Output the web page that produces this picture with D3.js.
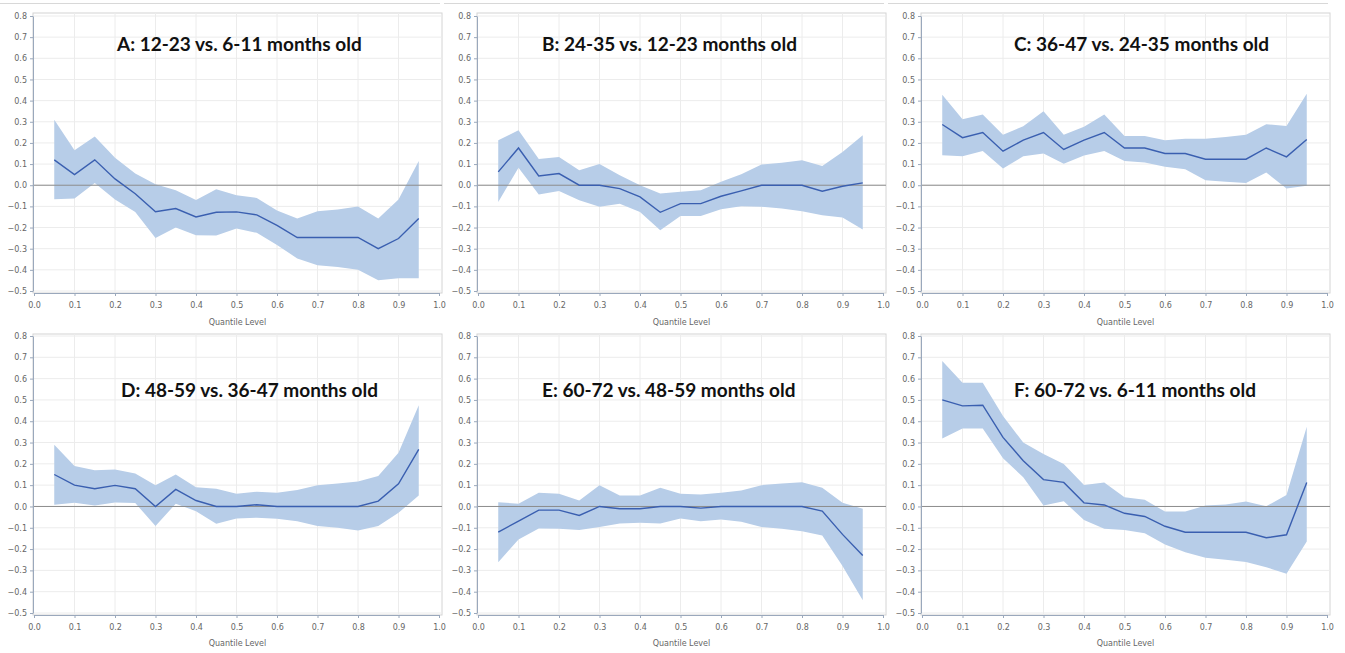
<!DOCTYPE html>
<html>
<head>
  <meta charset="utf-8">
  <title>Quantile regression: age group differences</title>
  <script src="https://d3js.org/d3.v7.min.js"></script>
</head>
<style>
  body { margin: 0; background: #fff; }
  .tick text { font: 8px "DejaVu Sans", sans-serif; fill: #666; }
  .title { font: bold 19px Lato, sans-serif; fill: #111; }
  .xlabel { font: 8px "DejaVu Sans", sans-serif; fill: #666; text-anchor: middle; }
</style>
<body>
</body>
<script>

  // quantile levels shared by all panels
  var quantiles = [0.05, 0.1, 0.15, 0.2, 0.25, 0.3, 0.35, 0.4, 0.45, 0.5,
                   0.55, 0.6, 0.65, 0.7, 0.75, 0.8, 0.85, 0.9, 0.95];

  var titles = ['A: 12-23 vs. 6-11 months old', 'B: 24-35 vs. 12-23 months old',
                'C: 36-47 vs. 24-35 months old', 'D: 48-59 vs. 36-47 months old',
                'E: 60-72 vs. 48-59 months old', 'F: 60-72 vs. 6-11 months old'];

  var xTicks = [0, 0.1, 0.2, 0.3, 0.4, 0.5, 0.6, 0.7, 0.8, 0.9, 1.0];
  var yTicks = [-0.5, -0.4, -0.3, -0.2, -0.1, 0, 0.1, 0.2, 0.3, 0.4, 0.5, 0.6, 0.7, 0.8];

  // panel A
  var estA = [0.12, 0.05, 0.12, 0.03, -0.04, -0.125, -0.11, -0.15, -0.128, -0.126,
              -0.14, -0.19, -0.247, -0.247, -0.247, -0.247, -0.30, -0.252, -0.157];
  var upA  = [0.31, 0.165, 0.23, 0.13, 0.055, 0.005, -0.024, -0.07, -0.019, -0.047,
              -0.06, -0.12, -0.157, -0.123, -0.115, -0.10, -0.157, -0.068, 0.115];
  var lowA = [-0.066, -0.063, 0.011, -0.068, -0.126, -0.249, -0.20, -0.236, -0.238, -0.205,
              -0.225, -0.283, -0.346, -0.378, -0.386, -0.40, -0.449, -0.44, -0.44];

  // panel B
  var estB = [0.063, 0.176, 0.044, 0.055, 0.0, 0.0, -0.016, -0.055, -0.128, -0.087,
              -0.087, -0.052, -0.027, 0.0, 0.0, 0.0, -0.028, -0.005, 0.011];
  var upB  = [0.213, 0.26, 0.124, 0.134, 0.071, 0.10, 0.047, 0.0, -0.039, -0.031,
              -0.024, 0.016, 0.052, 0.098, 0.106, 0.118, 0.091, 0.157, 0.236];
  var lowB = [-0.079, 0.083, -0.044, -0.027, -0.071, -0.102, -0.087, -0.126, -0.213, -0.146,
              -0.146, -0.113, -0.099, -0.102, -0.11, -0.123, -0.142, -0.153, -0.209];

  // panel C
  var estC = [0.287, 0.225, 0.249, 0.161, 0.213, 0.249, 0.169, 0.213, 0.249, 0.176,
              0.176, 0.15, 0.15, 0.123, 0.123, 0.123, 0.176, 0.134, 0.216];
  var upC  = [0.428, 0.312, 0.334, 0.239, 0.279, 0.35, 0.239, 0.276, 0.334, 0.233,
              0.233, 0.213, 0.22, 0.22, 0.228, 0.239, 0.288, 0.28, 0.433];
  var lowC = [0.142, 0.137, 0.162, 0.079, 0.137, 0.15, 0.102, 0.14, 0.162, 0.115,
              0.107, 0.087, 0.076, 0.024, 0.016, 0.011, 0.06, -0.016, -0.002];

  // panel D
  var estD = [0.15, 0.10, 0.083, 0.099, 0.083, 0.0, 0.08, 0.028, 0.0, 0.0,
              0.008, 0.0, 0.0, 0.0, 0.0, 0.0, 0.025, 0.106, 0.268];
  var upD  = [0.29, 0.19, 0.17, 0.174, 0.155, 0.10, 0.15, 0.09, 0.083, 0.06,
              0.069, 0.064, 0.077, 0.10, 0.108, 0.117, 0.143, 0.252, 0.475];
  var lowD = [0.008, 0.017, 0.005, 0.019, 0.016, -0.092, 0.013, -0.022, -0.081, -0.056,
              -0.053, -0.058, -0.069, -0.092, -0.10, -0.113, -0.092, -0.03, 0.052];

  // panel E
  var estE = [-0.12, -0.069, -0.017, -0.017, -0.042, 0.0, -0.011, -0.011, 0.0, 0.0,
              -0.008, 0.0, 0.0, 0.0, 0.0, 0.0, -0.022, -0.131, -0.23];
  var upE  = [0.02, 0.013, 0.064, 0.06, 0.028, 0.10, 0.052, 0.052, 0.088, 0.06,
              0.056, 0.064, 0.075, 0.10, 0.108, 0.114, 0.088, 0.017, -0.011];
  var lowE = [-0.262, -0.155, -0.103, -0.105, -0.111, -0.096, -0.08, -0.077, -0.08, -0.056,
              -0.069, -0.061, -0.072, -0.096, -0.105, -0.116, -0.136, -0.28, -0.44];

  // panel F
  var estF = [0.50, 0.472, 0.475, 0.324, 0.215, 0.126, 0.113, 0.017, 0.007, -0.032,
              -0.047, -0.093, -0.121, -0.121, -0.121, -0.121, -0.147, -0.133, 0.113];
  var upF  = [0.683, 0.581, 0.581, 0.425, 0.30, 0.246, 0.199, 0.101, 0.113, 0.043,
              0.031, -0.024, -0.024, 0.004, 0.009, 0.023, 0.001, 0.054, 0.374];
  var lowF = [0.319, 0.366, 0.366, 0.226, 0.137, 0.004, 0.024, -0.063, -0.105, -0.11,
              -0.126, -0.179, -0.215, -0.241, -0.25, -0.261, -0.285, -0.316, -0.165];

  var series = [[estA, upA, lowA], [estB, upB, lowB], [estC, upC, lowC],
                [estD, upD, lowD], [estE, upE, lowE], [estF, upF, lowF]];

  // layout of the 2 x 3 grid (frame edges in pixels)
  var colLeft = [33, 477, 921];
  var frameW = 409;
  var rows = [{top: 13, bottom: 293, y08: 16, y05: 291, label: 322},
              {top: 334, bottom: 615, y08: 336, y05: 613, label: 643}];
  var titlePos = [[117, 51], [542, 51], [1014, 51], [121, 397], [542, 397], [1014, 397]];

  var svg = d3.select('body').append('svg')
    .attr('width', 1345)
    .attr('height', 653);

  // faint separator lines along the top of each column
  colLeft.forEach(function(l, i) {
    svg.append('line')
      .attr('x1', l - 33).attr('x2', l + frameW - 2)
      .attr('y1', 3.5).attr('y2', 3.5)
      .attr('stroke', '#d8d8d8');
  });

  series.forEach(function(s, i) {
    var col = i % 3, row = rows[Math.floor(i / 3)];
    var left = colLeft[col], right = left + frameW;

    var x = d3.scaleLinear().domain([0, 1]).range([left + 1, right - 3]);
    var y = d3.scaleLinear().domain([-0.5, 0.8]).range([row.y05, row.y08]);

    var g = svg.append('g');

    // frame
    g.append('rect')
      .attr('x', left).attr('y', row.top)
      .attr('width', frameW).attr('height', row.bottom - row.top)
      .attr('fill', 'none').attr('stroke', '#d4d4d4');

    // grid
    g.selectAll('.vgrid').data(xTicks.slice(1, -1)).enter().append('line')
      .attr('x1', function(d) { return x(d); }).attr('x2', function(d) { return x(d); })
      .attr('y1', row.top).attr('y2', row.bottom)
      .attr('stroke', '#ececec');
    g.selectAll('.hgrid').data(yTicks).enter().append('line')
      .attr('x1', left).attr('x2', right)
      .attr('y1', function(d) { return y(d); }).attr('y2', function(d) { return y(d); })
      .attr('stroke', '#ececec');

    var pts = quantiles.map(function(q, k) {
      return {q: q, est: s[0][k], up: s[1][k], low: s[2][k]};
    });

    // confidence band
    g.append('path')
      .datum(pts)
      .attr('fill', '#b7cde8')
      .attr('d', d3.area()
        .x(function(d) { return x(d.q); })
        .y0(function(d) { return y(d.low); })
        .y1(function(d) { return y(d.up); }));

    // zero reference line
    g.append('line')
      .attr('x1', left).attr('x2', right)
      .attr('y1', y(0)).attr('y2', y(0))
      .attr('stroke', '#8c8c8c').attr('stroke-width', 1);

    // estimate
    g.append('path')
      .datum(pts)
      .attr('fill', 'none')
      .attr('stroke', '#3a5fb0')
      .attr('stroke-width', 1.4)
      .attr('d', d3.line()
        .x(function(d) { return x(d.q); })
        .y(function(d) { return y(d.est); }));

    // axes
    var xAxis = g.append('g')
      .attr('transform', 'translate(0,' + row.bottom + ')')
      .call(d3.axisBottom(x).tickValues(xTicks).tickFormat(d3.format('.1f')).tickSize(3).tickSizeOuter(0));
    var yAxis = g.append('g')
      .attr('transform', 'translate(' + left + ',0)')
      .call(d3.axisLeft(y).tickValues(yTicks).tickFormat(d3.format('.1f')).tickSize(3).tickSizeOuter(0));
    [xAxis, yAxis].forEach(function(a) {
      a.select('.domain').attr('stroke', '#9aa8bc');
      a.selectAll('.tick line').attr('stroke', '#9aa8bc');
    });
    xAxis.selectAll('.tick text').attr('dy', '1.1em');

    g.append('text')
      .attr('class', 'xlabel')
      .attr('x', (left + right) / 2)
      .attr('y', row.label + 3)
      .text('Quantile Level');

    g.append('text')
      .attr('class', 'title')
      .attr('x', titlePos[i][0])
      .attr('y', titlePos[i][1])
      .text(titles[i]);
  });

</script>
</html>
